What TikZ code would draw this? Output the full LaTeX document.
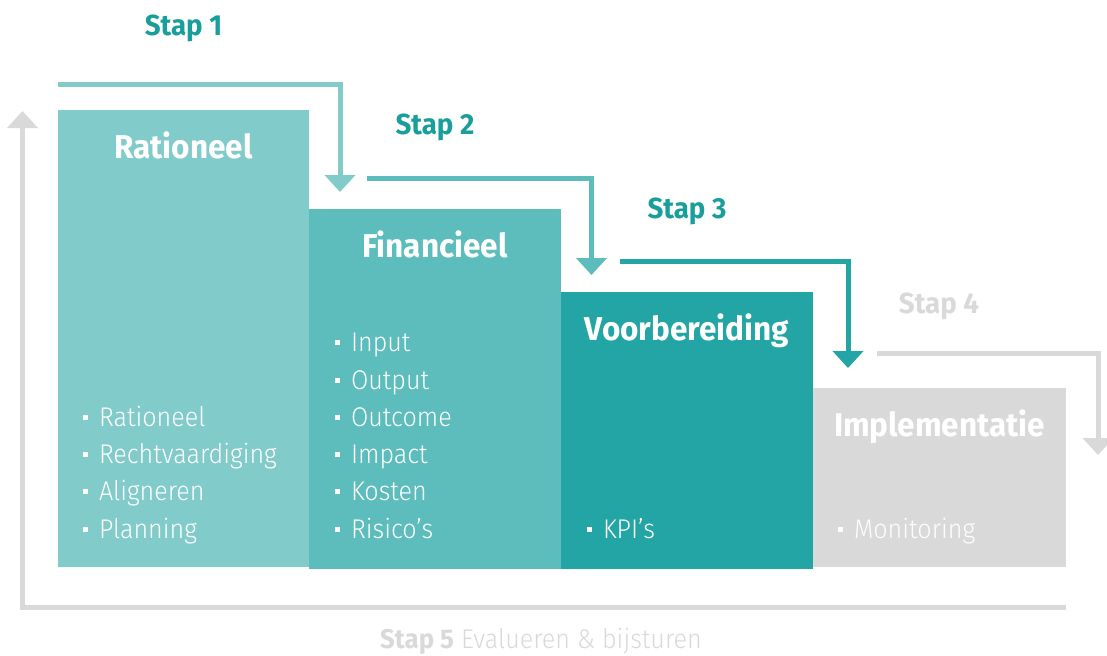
\documentclass[tikz,border=0pt]{standalone}
\usepackage{fontspec}
\setmainfont{Fira Sans}[UprightFont={* Light},BoldFont={* Bold},FakeStretch=0.93]
\newfontfamily\titlefont{Fira Sans Bold}[FakeStretch=0.955]
\usetikzlibrary{arrows.meta}
\definecolor{cA}{HTML}{82CBCB}
\definecolor{cB}{HTML}{5DBDBD}
\definecolor{cC}{HTML}{23A5A6}
\definecolor{cD}{HTML}{D9D9D9}
\definecolor{stept}{HTML}{189E9B}
\newcommand{\bul}{\raisebox{0.23em}{\rule{2.3pt}{2.3pt}}\hspace{5.5pt}}
\begin{document}
\begin{tikzpicture}[x=0.5pt,y=-0.5pt,
  box/.style={fill=#1,draw=none,inner sep=0pt,outer sep=0pt,anchor=north west},
  title/.style={font=\titlefont\fontsize{16.5}{18}\selectfont,text=white,anchor=base,inner sep=0pt},
  steplbl/.style={font=\titlefont\fontsize{14.5}{16}\selectfont,text=#1,anchor=base,inner sep=0pt},
  item/.style={font=\fontsize{13.5}{15}\selectfont,text=white,anchor=base west,inner sep=0pt},
  flow/.style={draw=#1,line width=2.5pt,-{Triangle[width=15pt,length=8.5pt]}}]
\useasboundingbox (0,0) rectangle (1107,655);
% boxes
\node[box=cA,minimum width=125.5pt,minimum height=228.5pt] (b1) at (58,110) {};
\node[box=cB,minimum width=126pt,minimum height=180pt] (b2) at (309,209) {};
\node[box=cC,minimum width=126pt,minimum height=138.5pt] (b3) at (561,292) {};
\node[box=cD,minimum width=126.5pt,minimum height=89.5pt] (b4) at (813,388) {};
% titles
\node[title] (t1) at (183.5,158) {Rationeel};
\node[title] (t2) at (435,257) {Financieel};
\node[title] (t3) at (687,340) {Voorbereiding};
\node[title] (t4) at (939.5,436) {Implementatie};
% step labels
\node[steplbl=stept] (s1) at (183.5,35) {Stap 1};
\node[steplbl=stept] (s2) at (435,134) {Stap 2};
\node[steplbl=stept] (s3) at (687,218) {Stap 3};
\node[steplbl=cD] (s4) at (939,313) {Stap 4};
\node[font=\fontsize{13.5}{15}\selectfont,text=cD,anchor=base,inner sep=0pt] (s5) at (541,648) {{\titlefont Stap 5} Evalueren \& bijsturen};
% items
\node[item] (i11) at (83,426) {\bul Rationeel};
\node[item] (i12) at (83,463) {\bul Rechtvaardiging};
\node[item] (i13) at (83,500) {\bul Aligneren};
\node[item] (i14) at (83,538) {\bul Planning};
\node[item] (i21) at (335,351) {\bul Input};
\node[item] (i22) at (335,389) {\bul Output};
\node[item] (i23) at (335,426) {\bul Outcome};
\node[item] (i24) at (335,463) {\bul Impact};
\node[item] (i25) at (335,500) {\bul Kosten};
\node[item] (i26) at (335,538) {\bul Risico’s};
\node[item] (i31) at (587,538) {\bul KPI’s};
\node[item,text=white!94!cD] (i41) at (838,538) {\bul Monitoring};
% flow coordinates
\coordinate (a1s) at (58,84.5);
\coordinate (a1e) at (340,192);
\coordinate (a2s) at (367,178.5);
\coordinate (a2e) at (591.5,275);
\coordinate (a3s) at (620,261);
\coordinate (a3e) at (848,368);
\coordinate (a4s) at (877,353.5);
\coordinate (a4e) at (1098,455);
\coordinate (a5s) at (1066,607);
\coordinate (a5e) at (22.5,111);
\draw[flow=cA] (a1s) -| (a1e);
\draw[flow=cB] (a2s) -| (a2e);
\draw[flow=cC] (a3s) -| (a3e);
\draw[flow=cD] (a4s) -| (a4e);
\draw[flow=cD] (a5s) -| (a5e);
\end{tikzpicture}
\end{document}
